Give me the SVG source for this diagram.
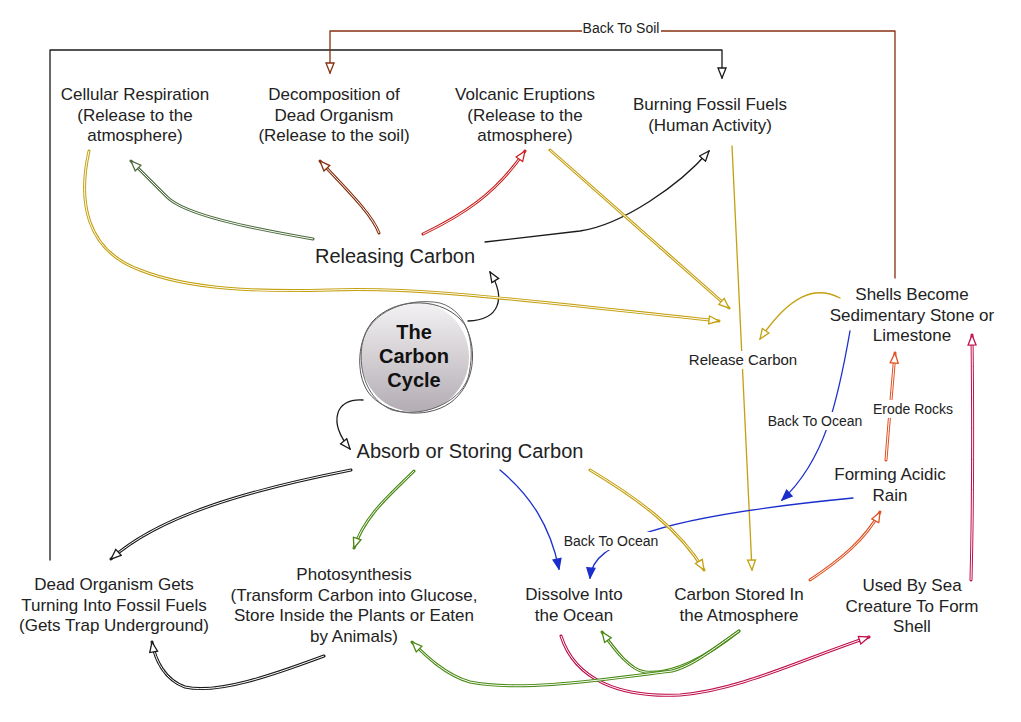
<svg xmlns="http://www.w3.org/2000/svg" xmlns:xlink="http://www.w3.org/1999/xlink" width="1021" height="722" viewBox="0 0 1021 722">
<style>
text{font-family:"Liberation Sans",Arial,sans-serif;fill:#222;text-anchor:middle}
.n{font-size:17px}
.big{font-size:20px}
.hub{font-size:20px;font-weight:bold;fill:#111}
.lbl{font-size:14px}
.e{fill:none;stroke-linecap:round;stroke-linejoin:round}
.s{stroke-width:1.3}
.d{stroke-width:3}
.gap{fill:none;stroke:#fff;stroke-width:1}
.mk{fill:none;stroke:none}
.k{stroke:#1a1a1a}.br{stroke:#86300f}.dg{stroke:#4b6b3c}.rd{stroke:#cc2020}.gd{stroke:#c4a010}
.bl{stroke:#1a2ecc}.or{stroke:#e05020}.cr{stroke:#c0104e}.gr{stroke:#4a8a14}
</style>
<defs>
<linearGradient id="hubg" x1="0" y1="0" x2="0" y2="1">
<stop offset="0" stop-color="#f4f2f4"/><stop offset="1" stop-color="#b3adb3"/>
</linearGradient>
<marker id="m-k" viewBox="0 0 12 10" refX="11" refY="5" markerWidth="12" markerHeight="10" markerUnits="userSpaceOnUse" orient="auto"><path d="M1,1 L11,5 L1,9 Z" fill="#fff" stroke="#1a1a1a" stroke-width="1.3"/></marker>
<marker id="m-br" viewBox="0 0 12 10" refX="11" refY="5" markerWidth="12" markerHeight="10" markerUnits="userSpaceOnUse" orient="auto"><path d="M1,1 L11,5 L1,9 Z" fill="#fff" stroke="#86300f" stroke-width="1.3"/></marker>
<marker id="m-dg" viewBox="0 0 12 10" refX="11" refY="5" markerWidth="12" markerHeight="10" markerUnits="userSpaceOnUse" orient="auto"><path d="M1,1 L11,5 L1,9 Z" fill="#fff" stroke="#4b6b3c" stroke-width="1.3"/></marker>
<marker id="m-rd" viewBox="0 0 12 10" refX="11" refY="5" markerWidth="12" markerHeight="10" markerUnits="userSpaceOnUse" orient="auto"><path d="M1,1 L11,5 L1,9 Z" fill="#fff" stroke="#cc2020" stroke-width="1.3"/></marker>
<marker id="m-gd" viewBox="0 0 12 10" refX="11" refY="5" markerWidth="12" markerHeight="10" markerUnits="userSpaceOnUse" orient="auto"><path d="M1,1 L11,5 L1,9 Z" fill="#fff" stroke="#c4a010" stroke-width="1.3"/></marker>
<marker id="m-bl" viewBox="0 0 12 10" refX="11" refY="5" markerWidth="12" markerHeight="10" markerUnits="userSpaceOnUse" orient="auto"><path d="M1,1 L11,5 L1,9 Z" fill="#1a2ecc" stroke="#1a2ecc" stroke-width="1.3"/></marker>
<marker id="m-or" viewBox="0 0 12 10" refX="11" refY="5" markerWidth="12" markerHeight="10" markerUnits="userSpaceOnUse" orient="auto"><path d="M1,1 L11,5 L1,9 Z" fill="#fff" stroke="#e05020" stroke-width="1.3"/></marker>
<marker id="m-cr" viewBox="0 0 12 10" refX="11" refY="5" markerWidth="12" markerHeight="10" markerUnits="userSpaceOnUse" orient="auto"><path d="M1,1 L11,5 L1,9 Z" fill="#fff" stroke="#c0104e" stroke-width="1.3"/></marker>
<marker id="m-gr" viewBox="0 0 12 10" refX="11" refY="5" markerWidth="12" markerHeight="10" markerUnits="userSpaceOnUse" orient="auto"><path d="M1,1 L11,5 L1,9 Z" fill="#fff" stroke="#4a8a14" stroke-width="1.3"/></marker>
<path id="p-rel-cell" d="M313,239 C250,228 185,215 167,197 L131,161"/>
<path id="p-rel-dec" d="M379,233 C372,215 352,195 320,161"/>
<path id="p-rel-vol" d="M423,234 C462,215 495,195 525,151"/>
<path id="p-cell-rc" d="M89,151 C78,200 85,250 140,270 C190,290 260,292 330,290 C420,287 500,298 719,321"/>
<path id="p-vol-rc" d="M550,150 L729,308"/>
<path id="p-abs-cs" d="M590,470 C640,500 680,530 704,570"/>
<path id="p-rain-sh" d="M886,460 C889,420 892,390 895,353"/>
<path id="p-cs-rain" d="M810,580 C840,560 865,540 880,512"/>
<path id="p-sea-sh" d="M971,580 C973,500 973,420 972,335"/>
<path id="p-dis-sea" d="M561,636 C575,680 620,698 680,695 C740,690 800,660 869,637"/>
<path id="p-abs-ph" d="M414,471 C390,495 365,515 354,548"/>
<path id="p-abs-dead" d="M351,470 C250,490 160,515 111,559"/>
<path id="p-cs-dis" d="M739,631 C705,658 672,675 645,672 C630,670 615,650 602,632"/>
<path id="p-cs-ph" d="M739,631 C712,650 692,666 672,671 C600,680 520,692 470,682 C445,675 425,655 412,642"/>
<path id="p-ph-dead" d="M324,656 C280,672 220,695 185,687 C165,680 155,660 152,642"/>
</defs>
<rect width="1021" height="722" fill="#fff"/>
<g id="connectors">
<path class="e s k" d="M50,560 L50,50 L722,50 L722,78" marker-end="url(#m-k)"/>
<path class="e s br" d="M895,278 L895,31 L330,31 L330,73" marker-end="url(#m-br)"/>
<path class="e s k" d="M485,242 L580,231 C622,225 680,185 709,151" marker-end="url(#m-k)"/>
<path class="e s k" d="M468,321 C500,320 506,298 490,272" marker-end="url(#m-k)"/>
<path class="e s k" d="M363,400 C335,398 328,422 350,449" marker-end="url(#m-k)"/>
<path class="e s gd" d="M732,146 L752,570" marker-end="url(#m-gd)"/>
<path class="e s gd" d="M840,298 C815,285 790,295 760,339" marker-end="url(#m-gd)"/>
<path class="e s bl" d="M850,331 C838,400 825,460 782,500" marker-end="url(#m-bl)"/>
<path class="e s bl" d="M853,498 C760,507 680,520 640,535 C610,548 592,556 590,578" marker-end="url(#m-bl)"/>
<path class="e s bl" d="M500,470 C530,495 550,525 559,569" marker-end="url(#m-bl)"/>
<g id="dbl-edges">
<use href="#p-rel-cell" class="e d dg"/><use href="#p-rel-cell" class="gap"/><use href="#p-rel-cell" class="mk" marker-end="url(#m-dg)"/>
<use href="#p-rel-dec" class="e d br"/><use href="#p-rel-dec" class="gap"/><use href="#p-rel-dec" class="mk" marker-end="url(#m-br)"/>
<use href="#p-rel-vol" class="e d rd"/><use href="#p-rel-vol" class="gap"/><use href="#p-rel-vol" class="mk" marker-end="url(#m-rd)"/>
<use href="#p-cell-rc" class="e d gd"/><use href="#p-cell-rc" class="gap"/><use href="#p-cell-rc" class="mk" marker-end="url(#m-gd)"/>
<use href="#p-vol-rc" class="e d gd"/><use href="#p-vol-rc" class="gap"/><use href="#p-vol-rc" class="mk" marker-end="url(#m-gd)"/>
<use href="#p-abs-cs" class="e d gd"/><use href="#p-abs-cs" class="gap"/><use href="#p-abs-cs" class="mk" marker-end="url(#m-gd)"/>
<use href="#p-rain-sh" class="e d or"/><use href="#p-rain-sh" class="gap"/><use href="#p-rain-sh" class="mk" marker-end="url(#m-or)"/>
<use href="#p-cs-rain" class="e d or"/><use href="#p-cs-rain" class="gap"/><use href="#p-cs-rain" class="mk" marker-end="url(#m-or)"/>
<use href="#p-sea-sh" class="e d cr"/><use href="#p-sea-sh" class="gap"/><use href="#p-sea-sh" class="mk" marker-end="url(#m-cr)"/>
<use href="#p-dis-sea" class="e d cr"/><use href="#p-dis-sea" class="gap"/><use href="#p-dis-sea" class="mk" marker-end="url(#m-cr)"/>
<use href="#p-abs-ph" class="e d gr"/><use href="#p-abs-ph" class="gap"/><use href="#p-abs-ph" class="mk" marker-end="url(#m-gr)"/>
<use href="#p-abs-dead" class="e d k"/><use href="#p-abs-dead" class="gap"/><use href="#p-abs-dead" class="mk" marker-end="url(#m-k)"/>
<use href="#p-cs-dis" class="e d gr"/><use href="#p-cs-dis" class="gap"/><use href="#p-cs-dis" class="mk" marker-end="url(#m-gr)"/>
<use href="#p-cs-ph" class="e d gr"/><use href="#p-cs-ph" class="gap"/><use href="#p-cs-ph" class="mk" marker-end="url(#m-gr)"/>
<use href="#p-ph-dead" class="e d k"/><use href="#p-ph-dead" class="gap"/><use href="#p-ph-dead" class="mk" marker-end="url(#m-k)"/>
</g>
<g id="edge-labels">
<rect x="582" y="19" width="79" height="17" fill="#fff"/><text class="lbl" x="621" y="33">Back To Soil</text>
<rect x="688" y="351" width="111" height="18" fill="#fff"/><text class="lbl" x="743" y="365" style="font-size:15px">Release Carbon</text>
<rect x="767" y="412" width="96" height="18" fill="#fff"/><text class="lbl" x="815" y="426">Back To Ocean</text>
<rect x="872" y="400" width="83" height="18" fill="#fff"/><text class="lbl" x="913" y="414">Erode Rocks</text>
<rect x="563" y="532" width="96" height="18" fill="#fff"/><text class="lbl" x="611" y="546">Back To Ocean</text>
</g>
</g>
<g id="node-hub">
<ellipse cx="415" cy="357" rx="54" ry="55" fill="url(#hubg)"/>
<path d="M372,322 C395,296 445,296 465,325 C478,350 475,385 450,403 C425,420 385,415 368,392 C355,372 358,340 372,322 Z" fill="none" stroke="#555" stroke-width="1"/>
<path d="M362,345 C368,310 410,297 440,303 C470,312 476,348 468,378 C458,405 420,418 392,410 C368,400 358,372 362,345 Z" fill="none" stroke="#666" stroke-width="1"/>
<text class="hub" x="414" y="339">The</text>
<text class="hub" x="414" y="363">Carbon</text>
<text class="hub" x="414" y="387">Cycle</text>
</g>
<g id="node-releasing"><text class="big" x="395" y="263">Releasing Carbon</text></g>
<g id="node-absorb"><text class="big" x="470" y="458">Absorb or Storing Carbon</text></g>
<g id="node-cellular"><text class="n" x="135" y="100">Cellular Respiration</text><text class="n" x="135" y="120.5">(Release to the</text><text class="n" x="135" y="141">atmosphere)</text></g>
<g id="node-decomposition"><text class="n" x="334" y="100">Decomposition of</text><text class="n" x="334" y="120.5">Dead Organism</text><text class="n" x="334" y="141">(Release to the soil)</text></g>
<g id="node-volcanic"><text class="n" x="525" y="100">Volcanic Eruptions</text><text class="n" x="525" y="120.5">(Release to the</text><text class="n" x="525" y="141">atmosphere)</text></g>
<g id="node-burning"><text class="n" x="710" y="110">Burning Fossil Fuels</text><text class="n" x="710" y="131">(Human Activity)</text></g>
<g id="node-shells"><text class="n" x="912" y="300">Shells Become</text><text class="n" x="912" y="320.5">Sedimentary Stone or</text><text class="n" x="912" y="341">Limestone</text></g>
<g id="node-rain"><text class="n" x="890" y="480">Forming Acidic</text><text class="n" x="890" y="501">Rain</text></g>
<g id="node-dead"><text class="n" x="114" y="590">Dead Organism Gets</text><text class="n" x="114" y="610.5">Turning Into Fossil Fuels</text><text class="n" x="114" y="631">(Gets Trap Underground)</text></g>
<g id="node-photo"><text class="n" x="354" y="580">Photosynthesis</text><text class="n" x="354" y="600.5">(Transform Carbon into Glucose,</text><text class="n" x="354" y="621">Store Inside the Plants or Eaten</text><text class="n" x="354" y="641.5">by Animals)</text></g>
<g id="node-dissolve"><text class="n" x="574" y="600">Dissolve Into</text><text class="n" x="574" y="621">the Ocean</text></g>
<g id="node-stored"><text class="n" x="739" y="600">Carbon Stored In</text><text class="n" x="739" y="621">the Atmosphere</text></g>
<g id="node-sea"><text class="n" x="912" y="591">Used By Sea</text><text class="n" x="912" y="611.5">Creature To Form</text><text class="n" x="912" y="632">Shell</text></g>
</svg>
